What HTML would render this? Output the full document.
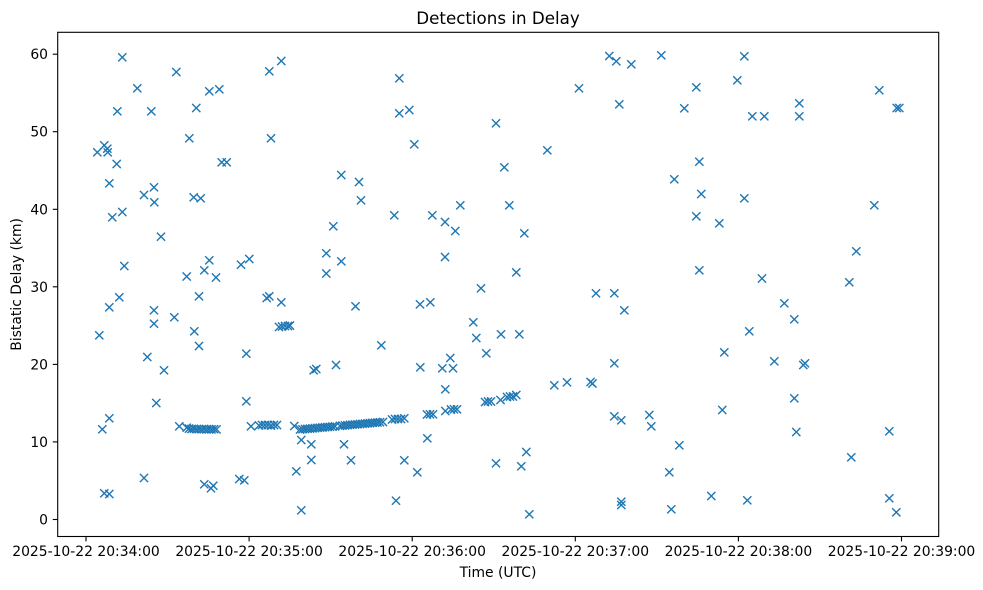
<!DOCTYPE html>
<html><head><meta charset="utf-8"><style>
html,body{margin:0;padding:0;background:#fff;}
svg{display:block;font-family:"DejaVu Sans","Liberation Sans",sans-serif;}
</style></head><body>
<svg width="983" height="590" viewBox="0 0 983 590" xmlns="http://www.w3.org/2000/svg">
<defs>
<path id="m" d="M-4.1,-4.1L4.1,4.1M-4.1,4.1L4.1,-4.1" stroke="#1f77b4" stroke-width="1.4" fill="none"/>
</defs>
<rect width="983" height="590" fill="#fff"/>
<text x="498" y="24" font-size="16.7" text-anchor="middle" fill="#000">Detections in Delay</text>
<g id="pts">
<use href="#m" x="122.3" y="57.3"/><use href="#m" x="176.3" y="72"/><use href="#m" x="137.3" y="88.3"/><use href="#m" x="117.3" y="111.3"/><use href="#m" x="151.3" y="111.3"/><use href="#m" x="196.3" y="108"/><use href="#m" x="189.3" y="138.3"/><use href="#m" x="104.3" y="145.3"/><use href="#m" x="97.3" y="152.3"/><use href="#m" x="107.3" y="148.7"/><use href="#m" x="107.7" y="152.3"/><use href="#m" x="116.7" y="164"/><use href="#m" x="109.3" y="183.3"/><use href="#m" x="154" y="187.3"/><use href="#m" x="144" y="195"/><use href="#m" x="154.3" y="202.3"/><use href="#m" x="193.7" y="197.3"/><use href="#m" x="200.7" y="198.3"/><use href="#m" x="122.3" y="212"/><use href="#m" x="112.3" y="217.3"/><use href="#m" x="161" y="236.7"/><use href="#m" x="124.3" y="266"/><use href="#m" x="209.3" y="260.3"/><use href="#m" x="204.3" y="270.3"/><use href="#m" x="186.7" y="276.5"/><use href="#m" x="119.3" y="297.3"/><use href="#m" x="109.3" y="307.3"/><use href="#m" x="154" y="310.3"/><use href="#m" x="199" y="296.3"/><use href="#m" x="174.3" y="317.3"/><use href="#m" x="154" y="323.7"/><use href="#m" x="99.3" y="335.3"/><use href="#m" x="194.3" y="331.3"/><use href="#m" x="199" y="346"/><use href="#m" x="147.3" y="357"/><use href="#m" x="164" y="370.3"/><use href="#m" x="156.3" y="403"/><use href="#m" x="109.3" y="418.3"/><use href="#m" x="102.3" y="429.3"/><use href="#m" x="179.3" y="426.3"/><use href="#m" x="186.7" y="427.7"/>
<use href="#m" x="189" y="428.6"/><use href="#m" x="191.5" y="429"/><use href="#m" x="194" y="428.8"/><use href="#m" x="196.5" y="429.2"/><use href="#m" x="199" y="429"/><use href="#m" x="201.5" y="429.3"/><use href="#m" x="204" y="429"/><use href="#m" x="206.5" y="429.4"/><use href="#m" x="209" y="429.1"/><use href="#m" x="211.5" y="429.4"/><use href="#m" x="214" y="429.2"/><use href="#m" x="216.5" y="429.4"/>
<use href="#m" x="144" y="478"/><use href="#m" x="104.3" y="493.3"/><use href="#m" x="109.3" y="494"/><use href="#m" x="204.3" y="484.3"/><use href="#m" x="211" y="488.3"/><use href="#m" x="213.3" y="485.7"/>
<use href="#m" x="281.3" y="61"/><use href="#m" x="269.3" y="71.3"/><use href="#m" x="209.3" y="91.3"/><use href="#m" x="219.3" y="89.3"/><use href="#m" x="271" y="138.3"/><use href="#m" x="221.7" y="162.3"/><use href="#m" x="226.7" y="162.3"/><use href="#m" x="341.3" y="175"/><use href="#m" x="333.3" y="226.3"/><use href="#m" x="216" y="277.5"/><use href="#m" x="241" y="264.7"/><use href="#m" x="249.3" y="259"/><use href="#m" x="326.3" y="253.3"/><use href="#m" x="341.3" y="261.3"/><use href="#m" x="326.3" y="273.5"/><use href="#m" x="266.7" y="298"/><use href="#m" x="269.3" y="296.3"/><use href="#m" x="281.3" y="302.3"/><use href="#m" x="355.5" y="306.3"/>
<use href="#m" x="279" y="327"/><use href="#m" x="282" y="326.5"/><use href="#m" x="285" y="326"/><use href="#m" x="288" y="326"/><use href="#m" x="290" y="325.5"/>
<use href="#m" x="246.3" y="353.7"/><use href="#m" x="313.7" y="370.3"/><use href="#m" x="316.3" y="369"/><use href="#m" x="336" y="365"/><use href="#m" x="246.3" y="401.3"/><use href="#m" x="251" y="426.3"/>
<use href="#m" x="259" y="425.5"/><use href="#m" x="262" y="425"/><use href="#m" x="265" y="425"/><use href="#m" x="268" y="425"/><use href="#m" x="271" y="425.5"/><use href="#m" x="274" y="425"/><use href="#m" x="277" y="425"/>
<use href="#m" x="294.3" y="426"/>
<use href="#m" x="300" y="429.5"/><use href="#m" x="302.5" y="429.3"/><use href="#m" x="305" y="429"/><use href="#m" x="307.5" y="428.8"/><use href="#m" x="310" y="428.6"/><use href="#m" x="312.5" y="428.4"/><use href="#m" x="315" y="428.1"/><use href="#m" x="317.5" y="427.9"/><use href="#m" x="320" y="427.7"/><use href="#m" x="322.5" y="427.5"/><use href="#m" x="325" y="427.2"/><use href="#m" x="327.5" y="427"/><use href="#m" x="330" y="426.8"/><use href="#m" x="332.5" y="426.6"/><use href="#m" x="335" y="426.3"/><use href="#m" x="340" y="425.9"/><use href="#m" x="342.5" y="425.6"/><use href="#m" x="345" y="425.4"/><use href="#m" x="347.5" y="425.2"/><use href="#m" x="350" y="424.9"/><use href="#m" x="352.5" y="424.7"/><use href="#m" x="355" y="424.5"/><use href="#m" x="357.5" y="424.3"/><use href="#m" x="360" y="424"/><use href="#m" x="362.5" y="423.8"/><use href="#m" x="365" y="423.6"/><use href="#m" x="367.5" y="423.4"/><use href="#m" x="370" y="423.1"/><use href="#m" x="372.5" y="422.9"/><use href="#m" x="375" y="422.7"/><use href="#m" x="377.5" y="422.5"/><use href="#m" x="380" y="422.2"/><use href="#m" x="383" y="422"/>
<use href="#m" x="301.3" y="440"/><use href="#m" x="311.3" y="444.3"/><use href="#m" x="344" y="444.3"/><use href="#m" x="311.3" y="460"/><use href="#m" x="351" y="460.3"/><use href="#m" x="296.3" y="471.3"/><use href="#m" x="239.3" y="479"/><use href="#m" x="244.3" y="480.3"/><use href="#m" x="301.3" y="510.3"/>
<use href="#m" x="399.3" y="78.3"/><use href="#m" x="399.3" y="113.3"/><use href="#m" x="409.3" y="110"/><use href="#m" x="496" y="123.3"/><use href="#m" x="414.3" y="144.3"/><use href="#m" x="359" y="182"/><use href="#m" x="361" y="200.3"/><use href="#m" x="394.3" y="215.3"/><use href="#m" x="432.3" y="215.3"/><use href="#m" x="460.3" y="205.3"/><use href="#m" x="445" y="222"/><use href="#m" x="455.3" y="231"/><use href="#m" x="445" y="257"/><use href="#m" x="420" y="304.3"/><use href="#m" x="430.3" y="302.3"/><use href="#m" x="481" y="288.3"/><use href="#m" x="473.3" y="322.3"/><use href="#m" x="501" y="334.3"/><use href="#m" x="476.3" y="338"/><use href="#m" x="486.3" y="353.3"/><use href="#m" x="381.3" y="345.3"/><use href="#m" x="420.3" y="367.3"/><use href="#m" x="442.3" y="368.3"/><use href="#m" x="453" y="368.3"/><use href="#m" x="450.3" y="358"/><use href="#m" x="445.3" y="389.3"/>
<use href="#m" x="485" y="402"/><use href="#m" x="488" y="401.5"/><use href="#m" x="491" y="401.5"/><use href="#m" x="500.5" y="400"/>
<use href="#m" x="392" y="419.5"/><use href="#m" x="395" y="419"/><use href="#m" x="398" y="419"/><use href="#m" x="401" y="419"/><use href="#m" x="404.3" y="418.3"/>
<use href="#m" x="427" y="414.5"/><use href="#m" x="430" y="414.3"/><use href="#m" x="433" y="414.3"/>
<use href="#m" x="445.3" y="411"/><use href="#m" x="451" y="409.5"/><use href="#m" x="454" y="409.3"/><use href="#m" x="457" y="409.3"/>
<use href="#m" x="427.3" y="438.3"/><use href="#m" x="404.3" y="460.3"/><use href="#m" x="417.3" y="472.3"/><use href="#m" x="396" y="500.7"/><use href="#m" x="496" y="463.3"/>
<use href="#m" x="609.3" y="56"/><use href="#m" x="616.3" y="61.3"/><use href="#m" x="631.3" y="64.3"/><use href="#m" x="579" y="88.3"/><use href="#m" x="619.3" y="104.3"/><use href="#m" x="547.3" y="150.3"/><use href="#m" x="504.3" y="167.3"/><use href="#m" x="509.3" y="205.3"/><use href="#m" x="524.3" y="233.3"/><use href="#m" x="516.3" y="272.3"/>
<use href="#m" x="596" y="293.3"/><use href="#m" x="614.3" y="293.3"/><use href="#m" x="624.3" y="310.3"/><use href="#m" x="519.3" y="334.3"/><use href="#m" x="614.3" y="363.3"/><use href="#m" x="554.3" y="385.3"/><use href="#m" x="567" y="382.3"/><use href="#m" x="590.5" y="382"/><use href="#m" x="592.5" y="383.5"/>
<use href="#m" x="507" y="397"/><use href="#m" x="510" y="396.5"/><use href="#m" x="513" y="396.5"/><use href="#m" x="516.3" y="395"/>
<use href="#m" x="614.3" y="416.3"/><use href="#m" x="621.3" y="420.3"/><use href="#m" x="526.3" y="452"/><use href="#m" x="521.3" y="466.3"/><use href="#m" x="621.3" y="501.7"/><use href="#m" x="621.3" y="505"/><use href="#m" x="529.3" y="514.3"/>
<use href="#m" x="661.3" y="55.3"/><use href="#m" x="744.3" y="56.3"/><use href="#m" x="737.3" y="80.3"/><use href="#m" x="696.3" y="87.3"/><use href="#m" x="684.3" y="108.3"/><use href="#m" x="752.3" y="116.3"/><use href="#m" x="764.3" y="116.3"/><use href="#m" x="699.3" y="161.7"/><use href="#m" x="674.3" y="179.3"/><use href="#m" x="701.3" y="194"/><use href="#m" x="744.3" y="198.3"/><use href="#m" x="696.3" y="216.3"/><use href="#m" x="719.3" y="223.3"/><use href="#m" x="699.3" y="270.3"/><use href="#m" x="762" y="278.5"/>
<use href="#m" x="784.3" y="303.3"/><use href="#m" x="749.3" y="331.3"/><use href="#m" x="724.3" y="352.3"/><use href="#m" x="774.3" y="361.3"/><use href="#m" x="722.3" y="410"/><use href="#m" x="649.3" y="415"/><use href="#m" x="651.3" y="426.3"/><use href="#m" x="679.3" y="445.3"/><use href="#m" x="669.3" y="472.3"/><use href="#m" x="711.3" y="496"/><use href="#m" x="747.3" y="500.3"/><use href="#m" x="671.3" y="509.3"/>
<use href="#m" x="879.3" y="90.3"/><use href="#m" x="799.3" y="103.3"/><use href="#m" x="799.3" y="116.3"/><use href="#m" x="896.7" y="108"/><use href="#m" x="899.3" y="108"/><use href="#m" x="874.3" y="205.3"/><use href="#m" x="856.3" y="251.3"/><use href="#m" x="849.3" y="282.3"/><use href="#m" x="794.3" y="319.3"/><use href="#m" x="805" y="363.3"/><use href="#m" x="803.3" y="365"/><use href="#m" x="794.3" y="398.3"/><use href="#m" x="796.3" y="432"/><use href="#m" x="889.3" y="431.3"/><use href="#m" x="851.3" y="457.3"/><use href="#m" x="889.3" y="498.3"/><use href="#m" x="896.3" y="512.3"/>
</g>
<rect x="57.7" y="32.3" width="881" height="504.2" fill="none" stroke="#000" stroke-width="1.1"/>
<g stroke="#000" stroke-width="1.1">
<line x1="52.8" y1="519.5" x2="57.7" y2="519.5"/>
<line x1="52.8" y1="441.9" x2="57.7" y2="441.9"/>
<line x1="52.8" y1="364.4" x2="57.7" y2="364.4"/>
<line x1="52.8" y1="286.8" x2="57.7" y2="286.8"/>
<line x1="52.8" y1="209.3" x2="57.7" y2="209.3"/>
<line x1="52.8" y1="131.7" x2="57.7" y2="131.7"/>
<line x1="52.8" y1="54.2" x2="57.7" y2="54.2"/>
<line x1="86" y1="536.5" x2="86" y2="541.4"/>
<line x1="249.1" y1="536.5" x2="249.1" y2="541.4"/>
<line x1="412.2" y1="536.5" x2="412.2" y2="541.4"/>
<line x1="575.3" y1="536.5" x2="575.3" y2="541.4"/>
<line x1="738.4" y1="536.5" x2="738.4" y2="541.4"/>
<line x1="901.5" y1="536.5" x2="901.5" y2="541.4"/>
</g>
<g font-size="13.9" fill="#000" text-anchor="end">
<text x="48" y="524.5">0</text>
<text x="48" y="446.9">10</text>
<text x="48" y="369.4">20</text>
<text x="48" y="291.8">30</text>
<text x="48" y="214.3">40</text>
<text x="48" y="136.7">50</text>
<text x="48" y="59.2">60</text>
</g>
<g font-size="13.9" fill="#000" text-anchor="middle">
<text x="86" y="556">2025-10-22 20:34:00</text>
<text x="249.1" y="556">2025-10-22 20:35:00</text>
<text x="412.2" y="556">2025-10-22 20:36:00</text>
<text x="575.3" y="556">2025-10-22 20:37:00</text>
<text x="738.4" y="556">2025-10-22 20:38:00</text>
<text x="901.5" y="556">2025-10-22 20:39:00</text>
<text x="498" y="577">Time (UTC)</text>
<text transform="translate(21,284.4) rotate(-90)">Bistatic Delay (km)</text>
</g>
</svg>
</body></html>
